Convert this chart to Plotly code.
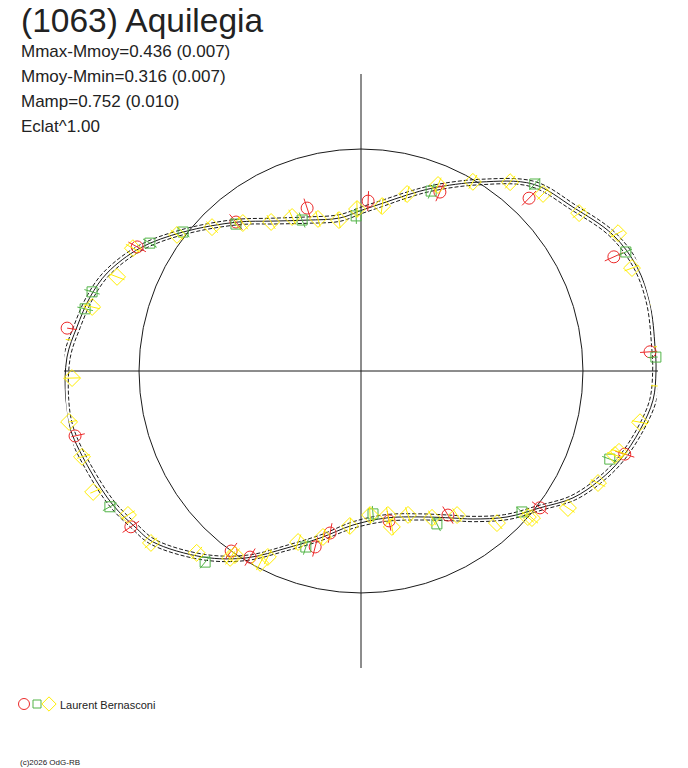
import plotly.graph_objects as go

# the page has an 8px body margin, so the figure is a bit smaller than the window
OFF = 8
W, H = 688 - OFF, 768 - OFF

# mean lightcurve, phase in degrees, relative flux (1 = mean flux circle)
curve_phase = [0, 4.7, 13.2, 20.6, 28.4, 37.7, 47.4, 57.8, 68.5, 75.4, 82.5, 89.6,
               97.8, 109.7, 120.4, 129.8, 142.0, 150.9, 158.9, 164.7, 171.2, 177.3,
               185.6, 191.4, 200.1, 208.4, 214.6, 219.4, 229.7, 238.6, 247.3, 256.2,
               267.0, 280.0, 292.0, 302.0, 307.1, 315.0, 322.6, 329.1, 335.5, 341.0,
               348.1, 354.3, 360]
curve_flux = [1.329, 1.329, 1.337, 1.329, 1.290, 1.207, 1.144, 1.006, 0.886, 0.819, 0.763, 0.725,
              0.696, 0.722, 0.783, 0.873, 1.017, 1.139, 1.226, 1.265, 1.295, 1.326,
              1.338, 1.335, 1.300, 1.270, 1.237, 1.213, 1.099, 0.986, 0.864, 0.775,
              0.695, 0.672, 0.709, 0.781, 0.836, 0.930, 1.015, 1.113, 1.183, 1.234,
              1.285, 1.322, 1.329]
curve_sigma = 0.015

# observations (three sessions)
red_phase = [3.8, 24.3, 45.8, 66.2, 87.6, 108.3, 130.0, 151.0, 171.7, 192.8, 214.1,
             234.2, 239.2, 255.4, 259.2, 280.6, 301.1, 322.6, 342.5]
red_flux = [1.305, 1.250, 1.086, 0.881, 0.766, 0.773, 0.876, 1.153, 1.338, 1.321, 1.252,
            1.000, 0.976, 0.819, 0.743, 0.687, 0.758, 1.015, 1.246]
red_err = 0.045

green_phase = [2.7, 24.2, 47.1, 68.7, 91.8, 111.3, 130.4, 142.0, 148.8, 163.6, 167.3,
               186.0, 208.4, 230.8, 252.6, 274.8, 296.4, 318.8, 340.5]
green_flux = [1.330, 1.308, 1.150, 0.870, 0.699, 0.730, 0.869, 1.017, 1.112, 1.263, 1.274,
              1.381, 1.286, 1.111, 0.831, 0.646, 0.769, 0.964, 1.189]
green_err = 0.036

yellow_phase = [4.7, 12.9, 20.8, 28.2, 35.9, 44.2, 51.7, 59.4, 67.5, 75.4, 82.7, 91.4,
                98.3, 105.8, 114.1, 121.1, 128.6, 136.0, 143.5, 151.7, 158.9, 166.6,
                173.9, 181.4, 189.9, 197.1, 204.3, 211.7, 219.3, 227.9, 235.0, 235.6,
                242.3, 243.4, 249.8, 257.1, 265.9, 273.6, 280.6, 281.2, 288.1, 295.8,
                303.7, 311.8, 318.8, 319.3, 326.5, 334.7, 341.7, 342.6, 349.6, 357.1]
yellow_flux = [1.360, 1.372, 1.306, 1.314, 1.213, 1.144, 1.084, 0.990, 0.907, 0.824, 0.749, 0.730,
               0.687, 0.712, 0.760, 0.784, 0.853, 0.933, 1.031, 1.167, 1.178, 1.245,
               1.350, 1.302, 1.335, 1.315, 1.324, 1.234, 1.223, 1.104, 1.028, 1.005,
               0.977, 0.937, 0.821, 0.767, 0.700, 0.650, 0.660, 0.716, 0.682, 0.735,
               0.780, 0.919, 0.999, 1.016, 1.118, 1.181, 1.205, 1.218, 1.278, 1.344]
yellow_err = 0.036

RED = "#ec2a2a"
GREEN = "#52b447"
YELLOW = "#ffee00"
INK = "#1a1a1a"


def err_segments(phase, flux, err):
    th, rr = [], []
    for p, f in zip(phase, flux):
        th += [p, p, None]
        rr += [f - err, f + err, None]
    return th, rr


fig = go.Figure()

# model curve with its envelope
for off, dash in [(curve_sigma, "4px,2px"), (-curve_sigma, "4px,2px"), (0, "solid")]:
    fig.add_trace(go.Scatterpolar(
        r=[f + off for f in curve_flux], theta=curve_phase, mode="lines",
        line=dict(color=INK, width=1, dash=dash, shape="spline", smoothing=1),
        cliponaxis=False, hoverinfo="skip", showlegend=False))

series = [
    (red_phase, red_flux, red_err, RED, "circle-open", 12),
    (green_phase, green_flux, green_err, GREEN, "square-open", 10),
    (yellow_phase, yellow_flux, yellow_err, YELLOW, "diamond-open", 13),
]
for ph, fl, er, col, sym, sz in series:
    th, rr = err_segments(ph, fl, er)
    fig.add_trace(go.Scatterpolar(
        r=rr, theta=th, mode="lines", line=dict(color=col, width=1),
        cliponaxis=False, hoverinfo="skip", showlegend=False))
    fig.add_trace(go.Scatterpolar(
        r=fl, theta=ph, mode="markers",
        marker=dict(symbol=sym, size=sz, color=col, line=dict(width=1, color=col)),
        cliponaxis=False, showlegend=False))

# small legend at the bottom (page pixel coordinates on a hidden axis)
leg_x = [24, 37, 49]
leg_sym = ["circle-open", "square-open", "diamond-open"]
leg_col = [RED, GREEN, YELLOW]
leg_size = [11, 8, 11]
for x, s, c, sz in zip(leg_x, leg_sym, leg_col, leg_size):
    fig.add_trace(go.Scatter(
        x=[x], y=[704], mode="markers", xaxis="x", yaxis="y",
        marker=dict(symbol=s, size=sz, color=c, line=dict(width=1, color=c)),
        hoverinfo="skip", showlegend=False))

cx, cy, rad = 361 - OFF, 371 - OFF, 297
fig.update_layout(
    width=W, height=H,
    margin=dict(l=0, r=0, t=0, b=0),
    paper_bgcolor="white",
    plot_bgcolor="rgba(0,0,0,0)",
    font=dict(family="Liberation Sans, Arial, sans-serif", color=INK),
    xaxis=dict(range=[OFF, W + OFF], domain=[0, 1], visible=False, fixedrange=True),
    yaxis=dict(range=[H + OFF, OFF], domain=[0, 1], visible=False, fixedrange=True),
    polar=dict(
        domain=dict(x=[(cx - rad) / W, (cx + rad) / W],
                    y=[(H - cy - rad) / H, (H - cy + rad) / H]),
        bgcolor="rgba(0,0,0,0)",
        radialaxis=dict(range=[0, 1.338], tickmode="array", tickvals=[1],
                        showgrid=True, gridcolor=INK, gridwidth=1,
                        showticklabels=False, ticks="", showline=False),
        angularaxis=dict(tickmode="linear", tick0=0, dtick=90,
                         direction="counterclockwise", rotation=0,
                         showgrid=True, gridcolor=INK, gridwidth=1,
                         showticklabels=False, ticks="", showline=False),
    ),
    showlegend=False,
)

texts = [
    ("(1063) Aquilegia", 22, 21, 33.5),
    ("Mmax-Mmoy=0.436 (0.007)", 22, 51, 17),
    ("Mmoy-Mmin=0.316 (0.007)", 22, 76, 17),
    ("Mamp=0.752 (0.010)", 22, 101, 17),
    ("Eclat^1.00", 22, 126, 17),
    ("Laurent Bernasconi", 61, 705, 11),
    ("(c)2026 OdG-RB", 21, 762, 8),
]
for t, x, y, s in texts:
    fig.add_annotation(text=t, x=(x - OFF - 3) / W, y=1 - (y - OFF) / H,
                       xref="paper", yref="paper",
                       xanchor="left", yanchor="middle", showarrow=False,
                       font=dict(size=s, color="#222222"))

fig.write_html("out.html")
